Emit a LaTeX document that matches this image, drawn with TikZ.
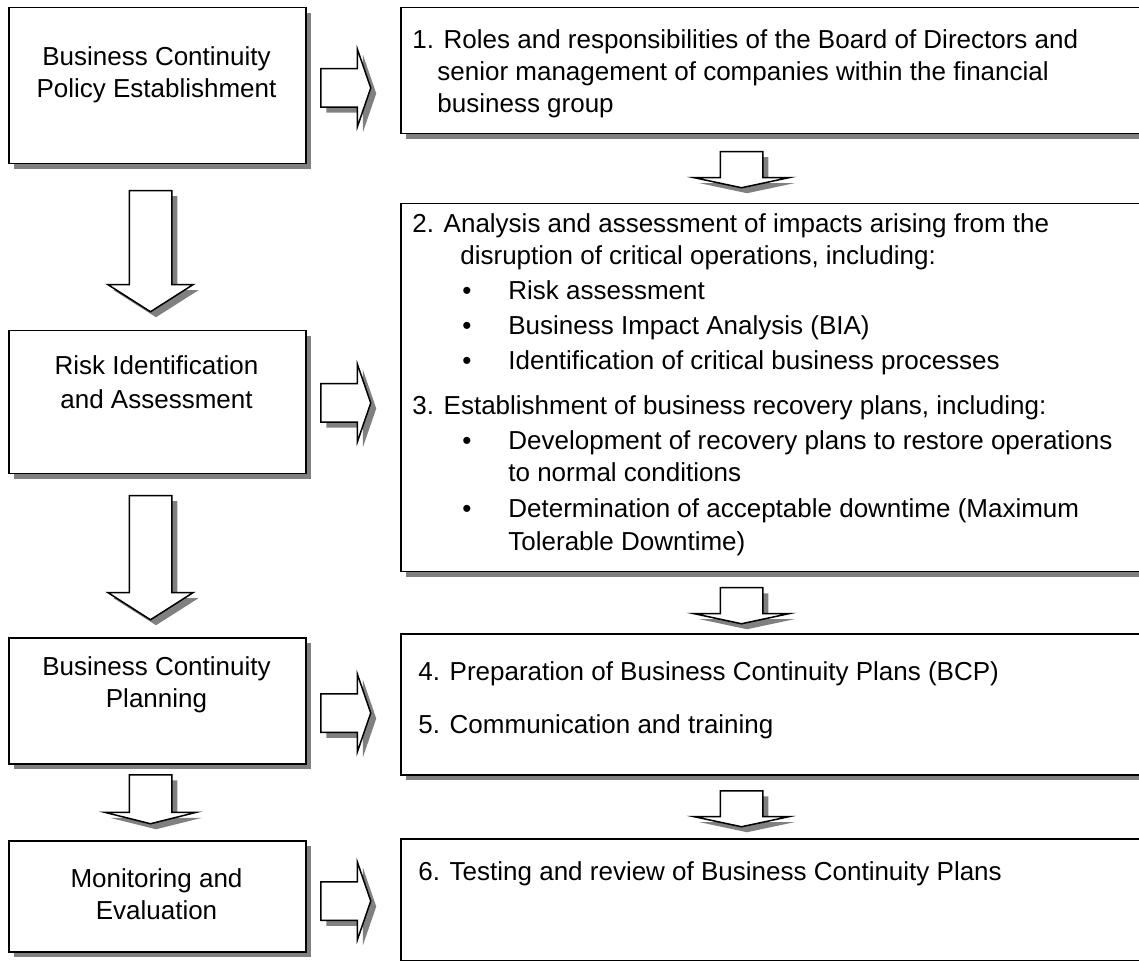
\documentclass[tikz,border=0pt]{standalone}
\usepackage{fontspec}
\setmainfont{Liberation Sans}
\usetikzlibrary{shapes.arrows,shadows}

\tikzset{
  boxshadow/.style={drop shadow={shadow xshift=2.75pt,shadow yshift=-2.75pt,fill=black!50,opacity=1}},
  stagebox/.style={draw,line width=0.75pt,fill=white,boxshadow,inner sep=0pt,
    anchor=north west,minimum width=148.5pt},
  itembox/.style={draw,line width=0.75pt,fill=white,boxshadow,inner sep=0pt,
    anchor=north west,minimum width=380pt},
  stagetext/.style={inner sep=0pt,anchor=north,align=center},
  itemtext/.style={inner sep=0pt,anchor=north west,align=left},
  blockarrow/.style={single arrow,draw,line width=0.75pt,fill=white,boxshadow,
    inner sep=0pt,anchor=tail},
  sidearrow/.style={blockarrow,minimum height=25pt,minimum width=38pt,
    single arrow head extend=9.75pt,single arrow tip angle=142},
  downarrow/.style={blockarrow,shape border rotate=270},
  longdown/.style={downarrow,minimum width=42pt,single arrow head extend=10.75pt,
    single arrow tip angle=115},
  flatdown/.style={downarrow,minimum height=18pt,minimum width=47pt,
    single arrow head extend=13.25pt,single arrow tip angle=156}
}
% empty boxes that fix the shaft width of the block arrows
\newcommand{\sideshaft}{\rule{0pt}{18.5pt}}
\newcommand{\downshaft}{\rule{20.5pt}{0pt}}

\begin{document}
\begin{tikzpicture}[x=0.5pt,y=-0.5pt,font=\fontsize{13pt}{16pt}\selectfont]
  \useasboundingbox (0,0) rectangle (1139,961);

  % stages on the left
  \node[stagebox,minimum height=78pt] (policy) at (8,7) {};
  \node[stagebox,minimum height=71.5pt] (risk) at (8,330) {};
  \node[stagebox,minimum height=63pt] (planning) at (8,637) {};
  \node[stagebox,minimum height=55.5pt] (monitor) at (8,840) {};
  \node[stagetext] (policytxt) at (156.5,42.6) {\strut Business Continuity\\Policy Establishment};
  \node[stagetext] (risktxt) at (156.5,351.6) {\strut Risk Identification\\[1pt]and Assessment};
  \node[stagetext] (planningtxt) at (156.5,652.6) {\strut Business Continuity\\Planning};
  \node[stagetext] (monitortxt) at (156.5,864.6) {\strut Monitoring and\\Evaluation};

  % activities on the right
  \node[itembox,minimum height=63pt] (roles) at (400,7) {};
  \node[itembox,minimum height=184pt] (impact) at (400,203) {};
  \node[itembox,minimum height=70.5pt] (bcp) at (400,633) {};
  \node[itembox,minimum height=61pt] (testing) at (400,838) {};
  \node[itemtext] (rolestxt) at (412,25.6) {\strut 1. Roles and responsibilities of the Board of Directors and\\
    \hspace*{12.5pt}senior management of companies within the financial\\
    \hspace*{12.5pt}business group};
  \node[itemtext] (impacttxt) at (412,209.6) {\strut 2. Analysis and assessment of impacts arising from the\\
    \hspace*{24pt}disruption of critical operations, including:\\[1.5pt]
    \hspace*{25pt}\makebox[23pt][l]{\textbullet}Risk assessment\\[1.5pt]
    \hspace*{25pt}\makebox[23pt][l]{\textbullet}Business Impact Analysis (BIA)\\[1.5pt]
    \hspace*{25pt}\makebox[23pt][l]{\textbullet}Identification of critical business processes\\[6.5pt]
    3. Establishment of business recovery plans, including:\\[1.5pt]
    \hspace*{25pt}\makebox[23pt][l]{\textbullet}Development of recovery plans to restore operations\\
    \hspace*{48pt}to normal conditions\\[2pt]
    \hspace*{25pt}\makebox[23pt][l]{\textbullet}Determination of acceptable downtime (Maximum\\[0.5pt]
    \hspace*{48pt}Tolerable Downtime)};
  \node[itemtext] (bcptxt) at (418,657.6) {\strut 4. Preparation of Business Continuity Plans (BCP)\\[10.5pt]
    5. Communication and training};
  \node[itemtext] (testingtxt) at (418,857.6) {\strut 6. Testing and review of Business Continuity Plans};

  % block arrows
  \node[sidearrow] (policyarr) at (320,88) {\sideshaft};
  \node[sidearrow] (riskarr) at (320,403) {\sideshaft};
  \node[sidearrow] (planningarr) at (320,713) {\sideshaft};
  \node[sidearrow] (monitorarr) at (320,901) {\sideshaft};
  \node[longdown,minimum height=60.5pt] (down1) at (150.5,190) {\downshaft};
  \node[longdown,minimum height=62pt] (down2) at (150.5,495) {\downshaft};
  \node[downarrow,minimum height=24.5pt,minimum width=45pt,single arrow head extend=12.25pt,
    single arrow tip angle=152] (down3) at (150.5,774) {\downshaft};
  \node[flatdown] (next1) at (741.5,151) {\downshaft};
  \node[flatdown] (next2) at (741.5,587) {\downshaft};
  \node[flatdown] (next3) at (741.5,790) {\downshaft};
\end{tikzpicture}
\end{document}
